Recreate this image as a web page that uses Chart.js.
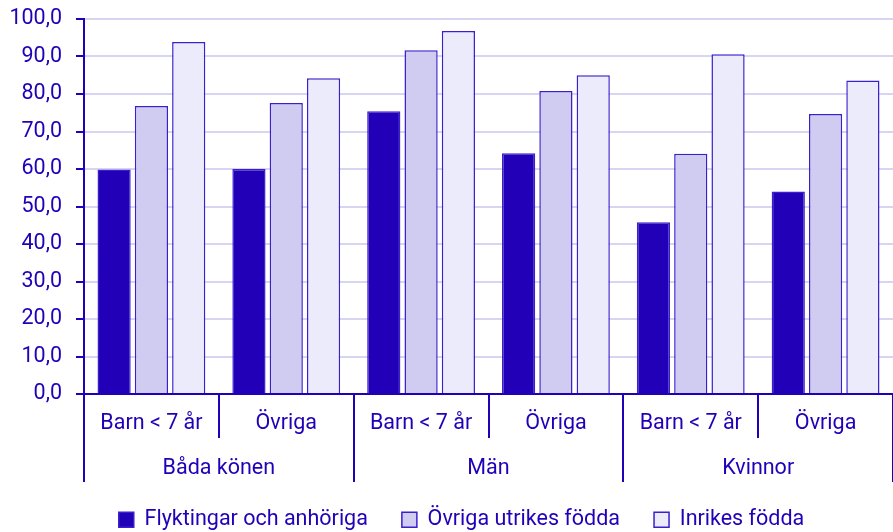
<!DOCTYPE html>
<html lang="sv">
<head>
<meta charset="utf-8">
<title>Andel efter grupp</title>
<script src="https://cdn.jsdelivr.net/npm/chart.js@4.4.3/dist/chart.umd.min.js"></script>
<style>
  html, body { margin: 0; padding: 0; background: #fff; }
  #wrap { position: relative; width: 893px; height: 532px; }
</style>
</head>
<body>
<div id="wrap"><canvas id="chart"></canvas></div>
<script>
// ── Data ────────────────────────────────────────────────────────────────────
const subLabels   = ['Barn < 7 år', 'Övriga', 'Barn < 7 år', 'Övriga', 'Barn < 7 år', 'Övriga'];
const groupLabels = ['Båda könen', 'Män', 'Kvinnor'];
const seriesNames = ['Flyktingar och anhöriga', 'Övriga utrikes födda', 'Inrikes födda'];

const flyktingar  = [59.9, 60.0, 75.4, 64.2, 45.8, 54.0];
const ovrigaUtr   = [76.8, 77.6, 91.7, 80.8, 64.1, 74.7];
const inrikes     = [93.9, 84.2, 96.8, 85.0, 90.6, 83.6];

const yMin = 0, yMax = 100, yStep = 10;

// ── Style ───────────────────────────────────────────────────────────────────
const ink     = '#2100b9';
const edge    = '#3a20cc';
const gridCol = '#d8d5f2';
const fills   = ['#2200b8', '#d0cbf0', '#ecebfc'];
const font    = { family: "Roboto, 'Noto Sans', sans-serif", size: 21.5 };

const fmt = v => Number(v).toFixed(1).replace('.', ',');

const datasets = [flyktingar, ovrigaUtr, inrikes].map((data, i) => ({
  label: seriesNames[i],
  data,
  backgroundColor: fills[i],
  borderColor: edge,
  borderWidth: 1.5,
  categoryPercentage: 0.83,
  barPercentage: 0.89,
}));

// two stacked category axes give the two label rows under the bars
const sepGrid = {
  offset: true,
  drawOnChartArea: false,
  tickLength: 44,
  color: ink,
  lineWidth: 2,
};

// legend in the original sits a little right of the canvas centre
const legendShift = {
  id: 'legendShift',
  afterLayout(chart) { if (chart.legend) chart.legend.left += 30; },
};

new Chart(document.getElementById('chart'), {
  type: 'bar',
  data: { labels: subLabels, datasets },
  plugins: [legendShift],
  options: {
    responsive: true,
    maintainAspectRatio: false,
    animation: false,
    layout: { padding: 0 },
    plugins: {
      tooltip: { enabled: false },
      legend: {
        position: 'bottom',
        maxHeight: 57,
        labels: {
          color: ink,
          font,
          boxWidth: 15,
          boxHeight: 15,
          padding: 34,
        },
      },
    },
    scales: {
      x: {
        position: 'bottom',
        offset: true,
        grid: sepGrid,
        border: { color: ink, width: 2 },
        ticks: { color: ink, font, padding: -27, maxRotation: 0, autoSkip: false },
        afterFit: s => { s.height = 44; s.paddingLeft = 0; s.paddingRight = 0; },
      },
      x2: {
        type: 'category',
        labels: groupLabels,
        position: 'bottom',
        offset: true,
        grid: sepGrid,
        border: { display: false },
        ticks: { color: ink, font, padding: -26, maxRotation: 0, autoSkip: false },
        afterFit: s => { s.height = 37; s.paddingLeft = 0; s.paddingRight = 0; },
      },
      y: {
        min: yMin,
        max: yMax,
        grid: {
          color: gridCol,
          lineWidth: 2,
          tickColor: ink,
          tickLength: 8,
          tickWidth: 2,
        },
        border: { color: ink, width: 2 },
        ticks: { color: ink, font, stepSize: yStep, padding: 14, callback: fmt },
        afterFit: s => { s.width = 84; s.paddingTop = 19; },
      },
    },
  },
});
</script>
</body>
</html>
